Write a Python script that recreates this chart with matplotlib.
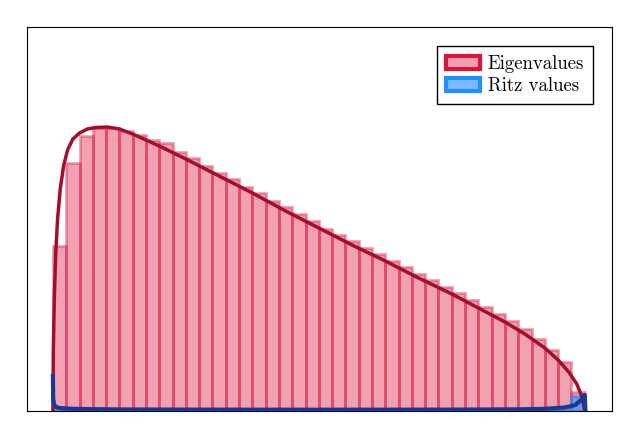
import numpy as np
import matplotlib.pyplot as plt
from matplotlib.patches import Patch

plt.rcParams["font.family"] = "serif"
plt.rcParams["font.serif"] = ["cmr10", "DejaVu Serif"]
plt.rcParams["axes.formatter.use_mathtext"] = True

# bin edges in bin units, heights
edges = np.arange(0, 41)
eig_heights = [165, 248, 275, 283, 283, 280, 276, 271, 268, 259, 253, 245, 238, 232,
               224, 218, 210, 204, 197, 190, 182, 176, 170, 163, 157, 150, 144, 137,
               131, 124, 118, 111, 104, 97, 90, 82, 72, 61, 49, 19]
ritz_heights = [4, 2, 2, 1.5, 1.5, 1.5, 1.5, 1.5, 1.5, 1.5, 1.5, 1.5, 1.5, 1.5,
                1.5, 1.5, 1.5, 1.5, 1.5, 1.5, 1.5, 1.5, 1.5, 1.5, 1.5, 1.5, 1.5, 1.5,
                1.5, 1.5, 1.5, 1.5, 1.5, 1.5, 2, 2, 2, 3, 4, 15]

eig_curve_x = [0, 0.03, 0.1, 0.2, 0.35, 0.55, 0.8, 1.1, 1.5, 2.0, 2.6, 3.2, 4.1, 5.0, 6.0, 8.0,
               10, 12.5, 15, 17.5, 20, 22.5, 25, 27.5, 30, 32, 34, 35.5, 37, 38, 38.8,
               39.4, 39.8, 40]
eig_curve_y = [0, 60, 110, 155, 192, 222, 245, 261, 272, 278, 282, 283.5, 284, 282, 277, 265,
               252, 235, 218, 200, 183, 166, 150, 133, 117, 103, 89, 77, 63, 51, 39,
               27, 14, 0]
ritz_curve_x = [0, 0.02, 0.1, 0.25, 0.5, 1, 2, 5, 10, 20, 30, 35, 37, 38.5, 39.3, 39.8, 40, 40.05]
ritz_curve_y = [35, 12, 6, 4, 3, 2.5, 2, 1.6, 1.4, 1.3, 1.4, 1.7, 2.2, 3.5, 6, 12, 16, 0]

crimson = "#dc143c"
blue = "#1e90ff"

fig, ax = plt.subplots(figsize=(6.4, 4.4), dpi=100)
ax.bar(edges[:-1], eig_heights, width=1, align="edge", color=crimson, alpha=0.4,
       edgecolor=crimson, linewidth=2)
ax.bar(edges[:-1], ritz_heights, width=1, align="edge", color=blue, alpha=0.6,
       edgecolor=blue, linewidth=2)
ax.plot(eig_curve_x, eig_curve_y, color="#a50e2a", lw=2.5)
ax.plot(ritz_curve_x, ritz_curve_y, color="#173a9a", lw=3)

ax.set_xlim(-1.95, 42.05)
ax.set_ylim(0, 384)
ax.set_xticks([])
ax.set_yticks([])
handles = [Patch(facecolor=(0.86, 0.08, 0.24, 0.4), edgecolor=crimson, lw=3, label="Eigenvalues"),
           Patch(facecolor=(0.12, 0.56, 1.0, 0.6), edgecolor=blue, lw=3, label="Ritz values")]
ax.legend(handles=handles, loc="upper right", fancybox=False, edgecolor="black",
          framealpha=1, fontsize=13.5, handlelength=1.8, borderaxespad=1.0,
          borderpad=0.5, labelspacing=0.2, handletextpad=0.4)
fig.subplots_adjust(left=27/640, right=612/640, top=1-27/440, bottom=1-411/440)
fig.savefig("out.png")
